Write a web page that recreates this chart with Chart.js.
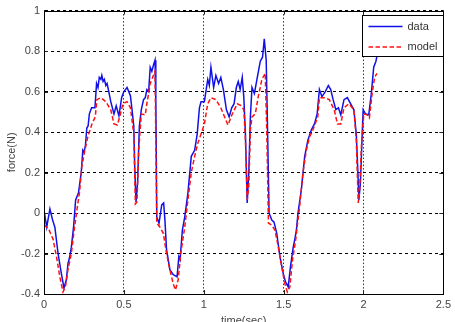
<!DOCTYPE html>
<html>
<head>
<meta charset="utf-8">
<script src="https://cdn.jsdelivr.net/npm/chart.js@4"></script>
<style>
  html, body { margin: 0; padding: 0; background: #fff; overflow: hidden; }
  #wrap { position: relative; width: 455px; height: 332px; }
</style>
</head>
<body>
<div id="wrap"><canvas id="chart"></canvas></div>
<script>
const xTicks = [0, 0.5, 1, 1.5, 2, 2.5]
const yTicks = [-0.4, -0.2, 0, 0.2, 0.4, 0.6, 0.8, 1]

const dataTime = [
  0, 0.017, 0.037, 0.054, 0.068, 0.088, 0.109, 0.125, 0.14, 0.15, 0.16, 0.171, 0.185, 0.198,
  0.216, 0.233, 0.243, 0.25, 0.259, 0.268, 0.276, 0.284, 0.298, 0.319, 0.329, 0.338, 0.346,
  0.356, 0.362, 0.37, 0.378, 0.387, 0.395, 0.403, 0.418, 0.438, 0.452, 0.469, 0.486, 0.5,
  0.52, 0.541, 0.551, 0.562, 0.568, 0.576, 0.586, 0.597, 0.609, 0.623, 0.634, 0.644, 0.655,
  0.665, 0.675, 0.685, 0.695, 0.7, 0.706, 0.72, 0.737, 0.749, 0.757, 0.767, 0.788, 0.809,
  0.833, 0.844, 0.852, 0.866, 0.881, 0.901, 0.922, 0.943, 0.959, 0.973, 0.983, 1.004, 1.025,
  1.035, 1.045, 1.062, 1.076, 1.093, 1.107, 1.123, 1.142, 1.159, 1.175, 1.19, 1.204, 1.216,
  1.228, 1.241, 1.251, 1.261, 1.272, 1.282, 1.292, 1.302, 1.317, 1.333, 1.354, 1.368, 1.379,
  1.391, 1.4, 1.409, 1.426, 1.44, 1.457, 1.477, 1.498, 1.512, 1.529, 1.543, 1.56, 1.57, 1.58,
  1.59, 1.611, 1.632, 1.652, 1.673, 1.693, 1.71, 1.724, 1.74, 1.761, 1.78, 1.795, 1.81, 1.827,
  1.843, 1.858, 1.878, 1.899, 1.919, 1.94, 1.955, 1.965, 1.971, 1.981, 1.992, 1.998, 2.012,
  2.033, 2.049, 2.064, 2.078, 2.09
]
const dataForce = [
  0.015, -0.07, 0.02, -0.035, -0.07, -0.2, -0.3, -0.37, -0.33, -0.25, -0.22, -0.17, -0.07, 0.065,
  0.1, 0.2, 0.31, 0.3, 0.33, 0.42, 0.43, 0.49, 0.52, 0.52, 0.64, 0.62, 0.67,
  0.66, 0.68, 0.65, 0.66, 0.63, 0.64, 0.61, 0.55, 0.49, 0.53, 0.48, 0.57, 0.6,
  0.62, 0.58, 0.51, 0.43, 0.23, 0.055, 0.15, 0.43, 0.51, 0.56, 0.57, 0.61, 0.6,
  0.72, 0.7, 0.73, 0.755, 0.56, -0.02, -0.05, 0.04, 0.05, -0.035, -0.18, -0.28, -0.305,
  -0.315, -0.215, -0.23, -0.085, -0.02, 0.1, 0.28, 0.31, 0.39, 0.52, 0.55, 0.55, 0.66,
  0.63, 0.72, 0.62, 0.68, 0.64, 0.67, 0.61, 0.51, 0.475, 0.52, 0.54, 0.62, 0.65,
  0.61, 0.67, 0.57, 0.39, 0.05, 0.2, 0.475, 0.62, 0.59, 0.66, 0.75, 0.77, 0.86,
  0.755, 0.39, 0.0, -0.035, -0.045, -0.1, -0.215, -0.3, -0.34, -0.365, -0.265, -0.17, -0.13, -0.085,
  0, 0.115, 0.28, 0.36, 0.41, 0.44, 0.49, 0.61, 0.575, 0.6, 0.63, 0.61, 0.56, 0.51,
  0.52, 0.485, 0.56, 0.57, 0.54, 0.51, 0.39, 0.2, 0.065, 0.15, 0.39, 0.51, 0.49,
  0.485, 0.59, 0.72, 0.75, 0.8
]

const modelTime = [
  0, 0.027, 0.057, 0.078, 0.099, 0.119, 0.134, 0.15, 0.171, 0.191, 0.206, 0.222, 0.237, 0.253,
  0.274, 0.3, 0.321, 0.331, 0.356, 0.387, 0.418, 0.438, 0.459, 0.474, 0.494, 0.52, 0.541,
  0.562, 0.572, 0.582, 0.593, 0.609, 0.634, 0.644, 0.665, 0.685, 0.695, 0.706, 0.726, 0.747,
  0.767, 0.788, 0.809, 0.823, 0.84, 0.856, 0.881, 0.901, 0.922, 0.943, 0.963, 0.983, 1.004,
  1.025, 1.045, 1.076, 1.107, 1.138, 1.152, 1.179, 1.21, 1.235, 1.251, 1.261, 1.272, 1.282,
  1.292, 1.302, 1.323, 1.34, 1.364, 1.385, 1.395, 1.405, 1.426, 1.446, 1.467, 1.488, 1.508,
  1.523, 1.539, 1.556, 1.576, 1.586, 1.6, 1.621, 1.642, 1.662, 1.683, 1.714, 1.724, 1.755,
  1.786, 1.817, 1.837, 1.858, 1.878, 1.909, 1.94, 1.955, 1.967, 1.975, 1.988, 2.002, 2.023,
  2.037, 2.054, 2.07, 2.084
]
const modelForce = [
  -0.06, -0.075, -0.13, -0.215, -0.315, -0.39, -0.365, -0.28, -0.2, -0.07, 0.015, 0.1, 0.23, 0.3,
  0.375, 0.44, 0.475, 0.56, 0.57, 0.55, 0.51, 0.44, 0.435, 0.475, 0.54, 0.55, 0.52,
  0.39, 0.045, 0.055, 0.31, 0.49, 0.485, 0.54, 0.64, 0.68, 0.7, -0.05, -0.07, -0.1,
  -0.2, -0.28, -0.35, -0.38, -0.33, -0.2, -0.07, 0.065, 0.2, 0.28, 0.345, 0.39, 0.44,
  0.54, 0.57, 0.56, 0.52, 0.46, 0.435, 0.49, 0.54, 0.53, 0.51, 0.36, 0.065, 0.13,
  0.41, 0.475, 0.49, 0.57, 0.66, 0.69, 0.39, -0.05, -0.06, -0.085, -0.17, -0.265, -0.35,
  -0.39, -0.365, -0.23, -0.13, -0.06, 0.03, 0.2, 0.31, 0.375, 0.41, 0.475, 0.57, 0.57,
  0.56, 0.51, 0.44, 0.44, 0.52, 0.54, 0.51, 0.36, 0.05, 0.1, 0.345, 0.49, 0.485,
  0.47, 0.59, 0.67, 0.69
]

const FONT = 'Liberation Sans, Arial, sans-serif'
const toPoints = (xs, ys) => xs.map((x, i) => ({ x, y: ys[i] }))

// matlab style: solid box + small inward ticks
const frame = {
  id: 'frame',
  afterDraw(chart) {
    const { ctx, chartArea: a, scales } = chart
    ctx.save()
    ctx.strokeStyle = '#222'
    ctx.lineWidth = 1
    ctx.beginPath()
    scales.x.ticks.forEach(t => {
      const px = Math.round(scales.x.getPixelForValue(t.value)) + 0.5
      ctx.moveTo(px, a.bottom); ctx.lineTo(px, a.bottom - 4)
      ctx.moveTo(px, a.top); ctx.lineTo(px, a.top + 4)
    })
    scales.y.ticks.forEach(t => {
      const py = Math.round(scales.y.getPixelForValue(t.value)) + 0.5
      ctx.moveTo(a.left, py); ctx.lineTo(a.left + 4, py)
      ctx.moveTo(a.right, py); ctx.lineTo(a.right - 4, py)
    })
    ctx.stroke()
    ctx.strokeStyle = '#000'
    ctx.strokeRect(Math.round(a.left) + 0.5, Math.round(a.top) + 0.5,
      Math.round(a.right - a.left), Math.round(a.bottom - a.top))
    ctx.restore()
  }
}

const boxLegend = {
  id: 'boxLegend',
  afterDraw(chart) {
    const { ctx, chartArea: a } = chart
    const w = 81, h = 41
    const x0 = Math.round(a.right) - w + 0.5
    const y0 = Math.round(a.top) + 4.5
    ctx.save()
    ctx.fillStyle = '#fff'
    ctx.fillRect(x0, y0, w, h)
    ctx.strokeStyle = '#000'
    ctx.lineWidth = 1
    ctx.strokeRect(x0, y0, w, h)
    ctx.font = '11px ' + FONT
    ctx.textBaseline = 'middle'
    chart.data.datasets.forEach((ds, i) => {
      const y = y0 + 11 + i * 20.5
      ctx.strokeStyle = ds.borderColor
      ctx.lineWidth = ds.borderWidth
      ctx.setLineDash(ds.borderDash || [])
      ctx.beginPath()
      ctx.moveTo(x0 + 6, y); ctx.lineTo(x0 + 40, y)
      ctx.stroke()
      ctx.setLineDash([])
      ctx.fillStyle = '#333'
      ctx.fillText(ds.label, x0 + 45, y)
    })
    ctx.restore()
  }
}

const gridStyle = { color: '#000', lineWidth: 1, drawTicks: false }

new Chart(document.getElementById('chart'), {
  type: 'line',
  data: {
    datasets: [
      {
        label: 'data',
        data: toPoints(dataTime, dataForce),
        borderColor: '#1010e8',
        borderWidth: 1.5,
        pointRadius: 0,
        tension: 0,
        order: 1
      },
      {
        label: 'model',
        data: toPoints(modelTime, modelForce),
        borderColor: '#ff1010',
        borderWidth: 1.5,
        borderDash: [4.5, 2.5],
        pointRadius: 0,
        tension: 0,
        order: 0
      }
    ]
  },
  options: {
    responsive: true,
    maintainAspectRatio: false,
    animation: false,
    layout: { padding: { top: 10, right: 8, left: 0, bottom: 0 } },
    plugins: { legend: { display: false }, tooltip: { enabled: false } },
    scales: {
      x: {
        type: 'linear',
        min: 0,
        max: 2.5,
        afterBuildTicks: (s) => { s.ticks = xTicks.map(value => ({ value })) },
        afterFit: (s) => { s.height = 38 },
        grid: { ...gridStyle, color: '#333' },
        border: { display: true, color: '#222', width: 1, dash: [1.5, 2] },
        ticks: { color: '#444', font: { family: FONT, size: 11 }, padding: 4, maxRotation: 0,
          callback: (v) => String(v) },
        title: { display: true, text: 'time(sec)', color: '#444',
          font: { family: FONT, size: 11 }, padding: { top: 0, bottom: 4 } }
      },
      y: {
        min: -0.4,
        max: 1,
        afterBuildTicks: (s) => { s.ticks = yTicks.map(value => ({ value })) },
        afterFit: (s) => { s.width = 44 },
        grid: gridStyle,
        border: { display: true, color: '#222', width: 1, dash: [3, 3] },
        ticks: { color: '#444', font: { family: FONT, size: 11 }, padding: 4,
          callback: (v) => String(v) },
        title: { display: true, text: 'force(N)', color: '#444',
          font: { family: FONT, size: 11 }, padding: { top: 5, bottom: 0 } }
      }
    }
  },
  plugins: [frame, boxLegend]
})
</script>
</body>
</html>
